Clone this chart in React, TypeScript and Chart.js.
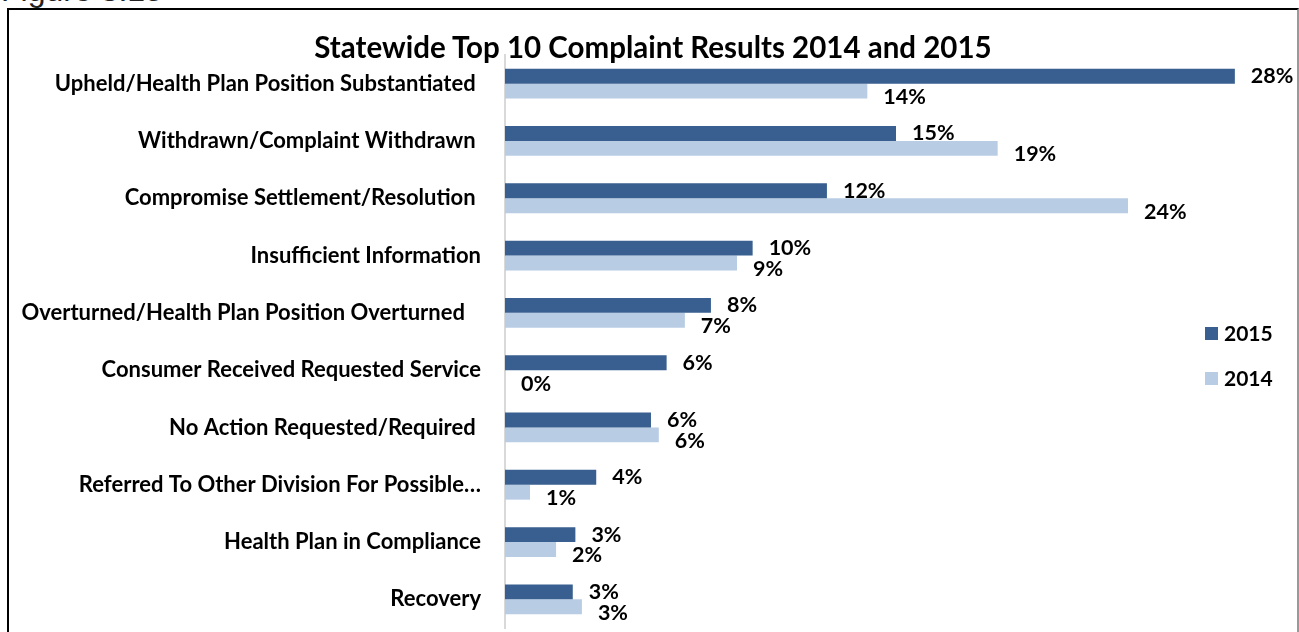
import React, { useEffect, useRef } from "react";
import { Chart, registerables } from "chart.js";

Chart.register(...registerables);

const categories = [
  "Upheld/Health Plan Position Substantiated ",
  "Withdrawn/Complaint Withdrawn ",
  "Compromise Settlement/Resolution ",
  "Insufficient Information",
  "Overturned/Health Plan Position Overturned   ",
  "Consumer Received Requested Service",
  "No Action Requested/Required ",
  "Referred To Other Division For Possible…",
  "Health Plan in Compliance",
  "Recovery",
];
const values2015 = [28.0, 15.0, 12.35, 9.5, 7.9, 6.2, 5.6, 3.5, 2.7, 2.6];
const values2014 = [13.9, 18.9, 23.9, 8.9, 6.9, 0, 5.9, 0.96, 1.96, 2.95];
const seriesNames = ["2015", "2014"];
const seriesColors = ["#385F8F", "#B8CCE4"];
const titleText = "Statewide Top 10 Complaint Results 2014 and 2015";
const figureText = "Figure 3.15";

const FONT = "Lato, 'Liberation Sans', sans-serif";

const labelPlugin = {
  id: "barLabels",
  afterDatasetsDraw(chart: any) {
    const ctx = chart.ctx;
    ctx.save();
    ctx.font = `bold 21.5px ${FONT}`;
    ctx.fillStyle = "#000";
    ctx.textAlign = "left";
    ctx.textBaseline = "middle";
    chart.data.datasets.forEach((ds: any, di: number) => {
      const meta = chart.getDatasetMeta(di);
      meta.data.forEach((bar: any, i: number) => {
        const v = ds.data[i];
        const dy = di === 0 ? 0 : 6;
        ctx.fillText(`${Math.round(v)}%`, bar.x + 16, bar.y + dy);
      });
    });
    ctx.restore();
  },
};

export default function App() {
  const ref = useRef<HTMLCanvasElement | null>(null);
  useEffect(() => {
    document.body.style.margin = "0";
    const chart = new Chart(ref.current as HTMLCanvasElement, {
      type: "bar",
      data: {
        labels: categories,
        datasets: [
          { label: seriesNames[0], data: values2015, backgroundColor: seriesColors[0] },
          { label: seriesNames[1], data: values2014, backgroundColor: seriesColors[1] },
        ],
      },
      options: {
        indexAxis: "y",
        animation: false,
        responsive: false,
        devicePixelRatio: 1,
        datasets: { bar: { categoryPercentage: 0.52, barPercentage: 1 } },
        layout: { padding: { left: 0, right: 12, top: 55, bottom: 4 } },
        plugins: { legend: { display: false }, tooltip: { enabled: false }, title: { display: false } },
        scales: {
          x: { display: false, min: 0, max: 30 },
          y: {
            afterFit: (scale: any) => {
              scale.width = 505;
              scale.paddingTop = 0;
              scale.paddingBottom = 0;
            },
            grid: { display: false, drawTicks: false },
            border: { display: true, color: "#D9D9D9", width: 2 },
            ticks: {
              padding: 24,
              color: "#000",
              font: { family: FONT, size: 22, weight: "bold" },
              autoSkip: false,
            },
          },
        },
      },
      plugins: [labelPlugin],
    } as any);
    return () => chart.destroy();
  }, []);

  return (
    <div style={{ position: "fixed", left: 0, top: 0, width: 1299, height: 632, overflow: "hidden", background: "#fff", fontFamily: FONT }}>
      <div style={{ position: "absolute", left: 1, top: -28, fontFamily: "'Liberation Sans', Arial, sans-serif", fontSize: 32, lineHeight: "37px", color: "#222", whiteSpace: "nowrap" }}>{figureText}</div>
      <div style={{ position: "absolute", left: 7, top: 8, width: 1288, height: 700, borderTop: "2px solid #000", borderLeft: "2px solid #000", borderRight: "2px solid #999" }} />
      <canvas ref={ref} width={1299} height={632} style={{ position: "absolute", left: 0, top: 0, width: 1299, height: 632 }} />
      <div style={{ position: "absolute", left: 0, width: 1306, top: 29, textAlign: "center", fontSize: 29.5, lineHeight: "36px", fontWeight: "bold", color: "#000", whiteSpace: "nowrap" }}>{titleText}</div>
      {seriesNames.map((n, i) => (
        <div key={n} style={{ position: "absolute", left: 1205, top: 320 + i * 45, display: "flex", alignItems: "center", fontSize: 21, lineHeight: "26px", fontWeight: "bold", color: "#000" }}>
          <span style={{ display: "inline-block", width: 13, height: 13, background: seriesColors[i], marginRight: 6 }} />
          {n}
        </div>
      ))}
    </div>
  );
}
